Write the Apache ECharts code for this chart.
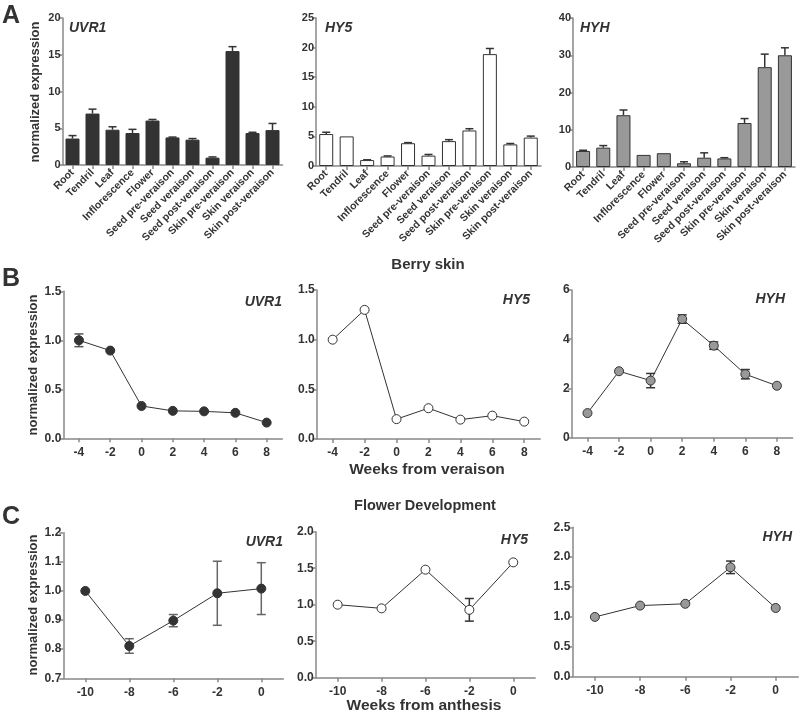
<!DOCTYPE html>
<html>
<head>
<meta charset="utf-8">
<script src="https://cdn.jsdelivr.net/npm/echarts@6/dist/echarts.min.js"></script>
<style>
  html, body { margin: 0; padding: 0; background: #fff; }
  #chart { width: 800px; height: 714px; }
</style>
</head>
<body>
<div id="chart"></div>
<script>
// panel A: tissues
var tissues = ['Root', 'Tendril', 'Leaf', 'Inflorescence', 'Flower', 'Seed pre-veraison',
  'Seed veraison', 'Seed post-veraison', 'Skin pre-veraison', 'Skin veraison', 'Skin post-veraison']
var uvr1Tissue = [3.6, 7.0, 4.8, 4.35, 6.05, 3.75, 3.45, 1.0, 15.5, 4.35, 4.75]
var uvr1TissueErr = [0.4, 0.6, 0.4, 0.5, 0.15, 0.05, 0.15, 0.1, 0.6, 0.1, 0.9]
var hy5Tissue = [5.4, 5.0, 1.0, 1.6, 3.85, 1.75, 4.2, 6.0, 18.9, 3.65, 4.8]
var hy5TissueErr = [0.3, 0, 0.05, 0.1, 0.1, 0.2, 0.25, 0.3, 0.95, 0.15, 0.25]
var hyhTissue = [4.3, 5.2, 13.9, 3.25, 3.7, 1.0, 2.5, 2.3, 11.8, 26.8, 30.0]
var hyhTissueErr = [0.2, 0.55, 1.4, 0, 0, 0.4, 1.3, 0.2, 1.2, 3.5, 2.0]

// panel B: berry skin
var weeksVeraison = ['-4', '-2', '0', '2', '4', '6', '8']
var uvr1Skin = [1.0, 0.895, 0.33, 0.28, 0.275, 0.26, 0.16]
var uvr1SkinErr = [0.065, 0, 0, 0, 0, 0, 0]
var hy5Skin = [1.0, 1.3, 0.2, 0.31, 0.195, 0.235, 0.175]
var hy5SkinErr = [0, 0, 0, 0, 0, 0, 0]
var hyhSkin = [1.0, 2.7, 2.32, 4.82, 3.74, 2.58, 2.11]
var hyhSkinErr = [0, 0, 0.29, 0.17, 0.15, 0.19, 0]

// panel C: flower development
var weeksAnthesis = ['-10', '-8', '-6', '-2', '0']
var uvr1Flower = [1.0, 0.811, 0.898, 0.992, 1.008]
var uvr1FlowerErr = [0, 0.025, 0.021, 0.11, 0.089]
var hy5Flower = [1.0, 0.95, 1.48, 0.93, 1.58]
var hy5FlowerErr = [0, 0, 0, 0.155, 0]
var hyhFlower = [1.0, 1.19, 1.22, 1.83, 1.15]
var hyhFlowerErr = [0, 0, 0, 0.105, 0]

var FONT = 'Liberation Sans, Arial, sans-serif'
var TXT = '#333'
var AXIS = '#888'
var colUvr1 = '#333333'
var colHy5 = '#ffffff'
var colHyh = '#999999'

var grids = [
  { left: 62.5, top: 18, width: 220, height: 147 },
  { left: 316, top: 18, width: 225, height: 148 },
  { left: 573, top: 18, width: 222, height: 149 },
  { left: 63.3, top: 291.3, width: 219, height: 147 },
  { left: 316.7, top: 290, width: 223.5, height: 149 },
  { left: 571.7, top: 290, width: 221, height: 147.7 },
  { left: 63.3, top: 532.7, width: 220, height: 145.6 },
  { left: 315.7, top: 531.7, width: 219.5, height: 146 },
  { left: 572.3, top: 527.3, width: 226, height: 149.4 }
]

function xCat(gi, cats, rotate) {
  return {
    type: 'category', gridIndex: gi, data: cats, boundaryGap: true,
    axisLine: { show: true, lineStyle: { color: AXIS, width: 1.5 } },
    axisTick: { show: true, alignWithLabel: true, length: 4, lineStyle: { color: AXIS, width: 1.5 } },
    axisLabel: rotate ? {
      interval: 0, rotate: 45, margin: 6, color: TXT, fontFamily: FONT, fontWeight: 'bold', fontSize: 10.5
    } : {
      interval: 0, margin: 8, color: TXT, fontFamily: FONT, fontWeight: 'bold', fontSize: 12
    },
    splitLine: { show: false }
  }
}

function yVal(gi, min, max, interval, fs, fmt) {
  return {
    type: 'value', gridIndex: gi, min: min, max: max, interval: interval,
    axisLine: { show: true, lineStyle: { color: AXIS, width: 1.5 } },
    axisTick: { show: true, length: 4, lineStyle: { color: AXIS, width: 1.5 } },
    axisLabel: {
      margin: 2, color: TXT, fontFamily: FONT, fontWeight: 'bold', fontSize: fs,
      formatter: fmt ? function (v) { return v.toFixed(1) } : null
    },
    splitLine: { show: false }
  }
}

function errData(vals, errs) {
  var out = []
  vals.forEach(function (v, i) {
    if (errs[i] > 0) out.push([i, v, errs[i]])
  })
  return out
}

function barErr(gi, vals, errs) {
  return {
    type: 'custom', xAxisIndex: gi, yAxisIndex: gi, z: 3,
    data: errData(vals, errs),
    renderItem: function (params, api) {
      var p = api.coord([api.value(0), api.value(1)])
      var h = api.coord([api.value(0), api.value(1) + api.value(2)])
      var st = { stroke: '#333', lineWidth: 1.5 }
      return {
        type: 'group', children: [
          { type: 'line', shape: { x1: p[0], y1: p[1], x2: p[0], y2: h[1] }, style: st },
          { type: 'line', shape: { x1: p[0] - 4, y1: h[1], x2: p[0] + 4, y2: h[1] }, style: st }
        ]
      }
    }
  }
}

function lineErr(gi, vals, errs, color) {
  return {
    type: 'custom', xAxisIndex: gi, yAxisIndex: gi, z: 2,
    data: errData(vals, errs),
    renderItem: function (params, api) {
      var lo = api.coord([api.value(0), api.value(1) - api.value(2)])
      var hi = api.coord([api.value(0), api.value(1) + api.value(2)])
      var x = lo[0]
      var st = { stroke: color, lineWidth: 1.5 }
      return {
        type: 'group', children: [
          { type: 'line', shape: { x1: x, y1: lo[1], x2: x, y2: hi[1] }, style: st },
          { type: 'line', shape: { x1: x - 4.5, y1: lo[1], x2: x + 4.5, y2: lo[1] }, style: st },
          { type: 'line', shape: { x1: x - 4.5, y1: hi[1], x2: x + 4.5, y2: hi[1] }, style: st }
        ]
      }
    }
  }
}

function bars(gi, vals, color) {
  return {
    type: 'bar', xAxisIndex: gi, yAxisIndex: gi, data: vals, barWidth: 14,
    itemStyle: { color: color, borderColor: '#333', borderWidth: 1 }
  }
}

function line(gi, vals, color) {
  return {
    type: 'line', xAxisIndex: gi, yAxisIndex: gi, data: vals, z: 4,
    symbol: 'circle', symbolSize: 9, showSymbol: true,
    lineStyle: { color: '#333', width: 1 },
    itemStyle: { color: color, borderColor: '#333', borderWidth: 1 }
  }
}

function txt(x, y, text, size, opts) {
  opts = opts || {}
  return {
    type: 'text', x: x, y: y, rotation: opts.rot || 0, silent: true,
    style: {
      text: text, fill: TXT, fontFamily: FONT, fontWeight: 'bold', fontSize: size,
      fontStyle: opts.italic ? 'italic' : 'normal',
      align: opts.align || 'left', verticalAlign: 'middle'
    }
  }
}

var chart = echarts.init(document.getElementById('chart'))
chart.setOption({
  animation: false,
  backgroundColor: '#fff',
  grid: grids,
  xAxis: [
    xCat(0, tissues, true), xCat(1, tissues, true), xCat(2, tissues, true),
    xCat(3, weeksVeraison), xCat(4, weeksVeraison), xCat(5, weeksVeraison),
    xCat(6, weeksAnthesis), xCat(7, weeksAnthesis), xCat(8, weeksAnthesis)
  ],
  yAxis: [
    yVal(0, 0, 20, 5, 11), yVal(1, 0, 25, 5, 11), yVal(2, 0, 40, 10, 11),
    yVal(3, 0, 1.5, 0.5, 12, true), yVal(4, 0, 1.5, 0.5, 12, true), yVal(5, 0, 6, 2, 12),
    yVal(6, 0.7, 1.2, 0.1, 12, true), yVal(7, 0, 2, 0.5, 12, true), yVal(8, 0, 2.5, 0.5, 12, true)
  ],
  series: [
    bars(0, uvr1Tissue, colUvr1), barErr(0, uvr1Tissue, uvr1TissueErr),
    bars(1, hy5Tissue, colHy5), barErr(1, hy5Tissue, hy5TissueErr),
    bars(2, hyhTissue, colHyh), barErr(2, hyhTissue, hyhTissueErr),
    line(3, uvr1Skin, colUvr1), lineErr(3, uvr1Skin, uvr1SkinErr, '#555'),
    line(4, hy5Skin, colHy5), lineErr(4, hy5Skin, hy5SkinErr, '#555'),
    line(5, hyhSkin, colHyh), lineErr(5, hyhSkin, hyhSkinErr, '#333'),
    line(6, uvr1Flower, colUvr1), lineErr(6, uvr1Flower, uvr1FlowerErr, '#666'),
    line(7, hy5Flower, colHy5), lineErr(7, hy5Flower, hy5FlowerErr, '#333'),
    line(8, hyhFlower, colHyh), lineErr(8, hyhFlower, hyhFlowerErr, '#333')
  ],
  graphic: [
    txt(2, 16, 'A', 25), txt(2, 279, 'B', 25), txt(2, 517, 'C', 25),
    txt(35, 92, 'normalized expression', 13, { rot: Math.PI / 2, align: 'center' }),
    txt(33, 365, 'normalized expression', 13, { rot: Math.PI / 2, align: 'center' }),
    txt(33, 605, 'normalized expression', 13, { rot: Math.PI / 2, align: 'center' }),
    txt(69, 28, 'UVR1', 14, { italic: true }),
    txt(325, 28, 'HY5', 14, { italic: true }),
    txt(580, 28, 'HYH', 14, { italic: true }),
    txt(282, 302, 'UVR1', 14, { italic: true, align: 'right' }),
    txt(530, 300, 'HY5', 14, { italic: true, align: 'right' }),
    txt(785, 299, 'HYH', 14, { italic: true, align: 'right' }),
    txt(283, 542, 'UVR1', 14, { italic: true, align: 'right' }),
    txt(528, 540, 'HY5', 14, { italic: true, align: 'right' }),
    txt(792, 537, 'HYH', 14, { italic: true, align: 'right' }),
    txt(428, 265, 'Berry skin', 15, { align: 'center' }),
    txt(427, 470, 'Weeks from veraison', 15.5, { align: 'center' }),
    txt(425, 506, 'Flower Development', 14.5, { align: 'center' }),
    txt(424, 706, 'Weeks from anthesis', 15.5, { align: 'center' })
  ]
})
</script>
</body>
</html>
